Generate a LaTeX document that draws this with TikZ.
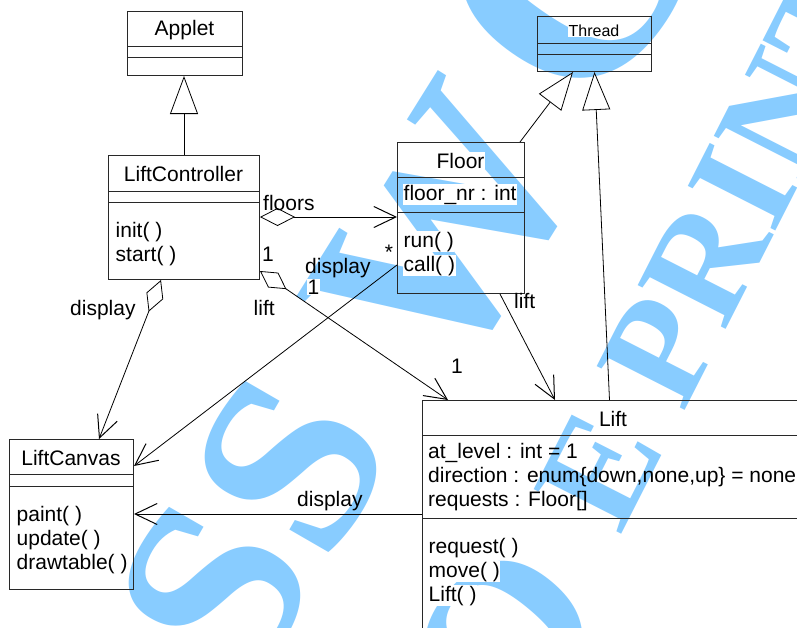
\documentclass[tikz,border=0pt]{standalone}
\usepackage{fontspec}
\setmainfont{Liberation Sans}
\newfontfamily\wmfont{Liberation Serif}[BoldFont={Liberation Serif Bold}]
\usetikzlibrary{arrows.meta}
\definecolor{wmblue}{RGB}{136,204,255}
\definecolor{edge}{RGB}{40,40,40}

\begin{document}
\begin{tikzpicture}[x=1pt,y=-1pt,
  every node/.style={inner sep=0pt},
  cls/.style={draw=edge, line width=1pt, anchor=north west, inner sep=0pt},
  sep/.style={draw=edge, line width=1pt},
  txt/.style={font=\fontsize{21pt}{24pt}\selectfont, fill=white, inner sep=0.5pt},
  txtc/.style={font=\fontsize{21pt}{24pt}\selectfont},
  small/.style={font=\fontsize{16pt}{18pt}\selectfont, fill=white, inner sep=0.5pt},
  wm/.style={text=wmblue, font=\wmfont\bfseries\fontsize{#1pt}{#1pt}\selectfont},
  link/.style={line width=0.8pt, draw=black},
  navarrow/.style={link, -{Straight Barb[length=22pt,width=21pt,line width=1pt]}},
  aggarrow/.style={link, {Diamond[length=#1,width=18pt,fill=white]}-{Straight Barb[length=22pt,width=21pt,line width=1pt]}},
  genarrow/.style={link, -{Triangle[length=38pt,width=28pt,fill=white]}}
]
\useasboundingbox (0,0) rectangle (797,627);
\fill[white] (0,0) rectangle (797,627);

% watermark lettering
\node[wm=256, rotate=60] (wmS1) at (215,590) {S};
\node[wm=256, rotate=60] (wmS2) at (291,464) {S};
\node[wm=275, rotate=58] (wmW) at (446,232) {W};
\node[wm=320, rotate=55] (wmO) at (575,-35) {O};
\node[wm=220, rotate=50] (wmC) at (505,640) {O};
\node[wm=150, rotate=63] (wmPrint) at (714,245) {E PRINT};

% class boxes
\node[cls, minimum width=115pt, minimum height=64pt] (applet) at (127,11) {};
\draw[sep] ([yshift=-35pt]applet.north west) -- ([yshift=-35pt]applet.north east);
\draw[sep] ([yshift=-46pt]applet.north west) -- ([yshift=-46pt]applet.north east);

\node[cls, minimum width=151pt, minimum height=124pt] (lc) at (108,155) {};
\draw[sep] ([yshift=-36pt]lc.north west) -- ([yshift=-36pt]lc.north east);
\draw[sep] ([yshift=-47pt]lc.north west) -- ([yshift=-47pt]lc.north east);

\node[cls, minimum width=127pt, minimum height=151pt] (floor) at (397,142) {};
\draw[sep] ([yshift=-35pt]floor.north west) -- ([yshift=-35pt]floor.north east);
\draw[sep] ([yshift=-70pt]floor.north west) -- ([yshift=-70pt]floor.north east);

\node[cls, minimum width=114pt, minimum height=55pt] (thread) at (537,16) {};
\draw[sep] ([yshift=-27pt]thread.north west) -- ([yshift=-27pt]thread.north east);
\draw[sep] ([yshift=-38pt]thread.north west) -- ([yshift=-38pt]thread.north east);

\node[cls, minimum width=382pt, minimum height=240pt] (lift) at (422,400) {};
\draw[sep] ([yshift=-35pt]lift.north west) -- ([yshift=-35pt]lift.north east);
\draw[sep] ([yshift=-118pt]lift.north west) -- ([yshift=-118pt]lift.north east);

\node[cls, minimum width=124pt, minimum height=150pt] (canvas) at (9,439) {};
\draw[sep] ([yshift=-35pt]canvas.north west) -- ([yshift=-35pt]canvas.north east);
\draw[sep] ([yshift=-47pt]canvas.north west) -- ([yshift=-47pt]canvas.north east);

% class texts
\node[txt, anchor=base] (appletT) at (184.5,35) {Applet};
\node[txt, anchor=base] (lcT) at (183.5,181) {LiftController};
\node[txt, anchor=base west] (lcM1) at (115,237) {init( )};
\node[txt, anchor=base west] (lcM2) at (115,261) {start( )};

\node[txt, anchor=base] (floorT) at (460.5,168) {Floor};
\node[txt, anchor=base west] (floorA) at (403,200) {floor\_nr : int};
\node[txt, anchor=base west] (floorM1) at (403,247) {run( )};
\node[txt, anchor=base west] (floorM2) at (403,271) {call( )};

\node[small, anchor=base] (threadT) at (594,36) {Thread};

\node[txt, anchor=base] (liftT) at (613,426) {Lift};
\node[txtc, anchor=base west] (liftA1) at (428,458) {at\_level : int = 1};
\node[txtc, anchor=base west] (liftA2) at (428,482) {direction : enum\{down,none,up\} = none};
\node[txtc, anchor=base west] (liftA3) at (428,506) {requests : Floor[]};
\node[txt, anchor=base west] (liftM1) at (428,553) {request( )};
\node[txt, anchor=base west] (liftM2) at (428,577) {move( )};
\node[txt, anchor=base west] (liftM3) at (428,601) {Lift( )};

\node[txt, anchor=base] (canvasT) at (71,465) {LiftCanvas};
\node[txt, anchor=base west] (canvasM1) at (16,521) {paint( )};
\node[txt, anchor=base west] (canvasM2) at (16,545) {update( )};
\node[txt, anchor=base west] (canvasM3) at (16,569) {drawtable( )};

% connector end points on the boxes
\coordinate (lcFloors) at ([yshift=-62pt]lc.north east);
\coordinate (floorIn) at ([yshift=-75pt]floor.north west);
\coordinate (lcLift) at ([yshift=-116pt]lc.north east);
\coordinate (liftInA) at ([xshift=26pt]lift.north west);
\coordinate (floorOut) at ([xshift=-25pt]floor.south east);
\coordinate (liftInB) at ([xshift=133pt]lift.north west);
\coordinate (floorCall) at ([yshift=-123pt]floor.north west);
\coordinate (canvasInA) at ([yshift=-27pt]canvas.north east);
\coordinate (lcDisp) at ([xshift=53pt]lc.south west);
\coordinate (canvasTop) at ([xshift=90pt]canvas.north west);
\coordinate (liftDisp) at ([yshift=-114pt]lift.north west);
\coordinate (floorGen) at ([xshift=-5pt]floor.north east);
\coordinate (threadGenA) at ([xshift=36pt]thread.south west);
\coordinate (liftGen) at ([xshift=-4pt]lift.north);

% generalizations
\draw[genarrow] (lc.north) -- (lc.north |- applet.south);
\draw[genarrow] (floorGen) -- (threadGenA);
\draw[genarrow] (liftGen) -- (thread.south);

% associations
\draw[aggarrow=35pt] (lcFloors) -- (floorIn);
\draw[aggarrow=32pt] (lcLift) -- (liftInA);
\draw[aggarrow=34pt] (lcDisp) -- (canvasTop);
\draw[navarrow] (floorOut) -- (liftInB);
\draw[navarrow] (floorCall) -- (canvasInA);
\draw[navarrow] (liftDisp) -- (canvas.east |- liftDisp);

% association labels
\node[txtc, anchor=base west] (lFloors) at (263,210) {floors};
\node[txtc, anchor=base] (lStar) at (389,259) {*};
\node[txtc, anchor=base] (lOneA) at (268,261) {1};
\node[txtc, anchor=base west] (lDispA) at (305,273) {display};
\node[txt, anchor=base west] (lOneB) at (307,294) {1};
\node[txt, anchor=base west] (lLiftA) at (253,315) {lift};
\node[txtc, anchor=base west] (lLiftB) at (514,308) {lift};
\node[txtc, anchor=base west] (lOneC) at (451,373) {1};
\node[txtc, anchor=base west] (lDispB) at (70,315) {display};
\node[txtc, anchor=base west] (lDispC) at (297,506) {display};
\end{tikzpicture}
\end{document}
